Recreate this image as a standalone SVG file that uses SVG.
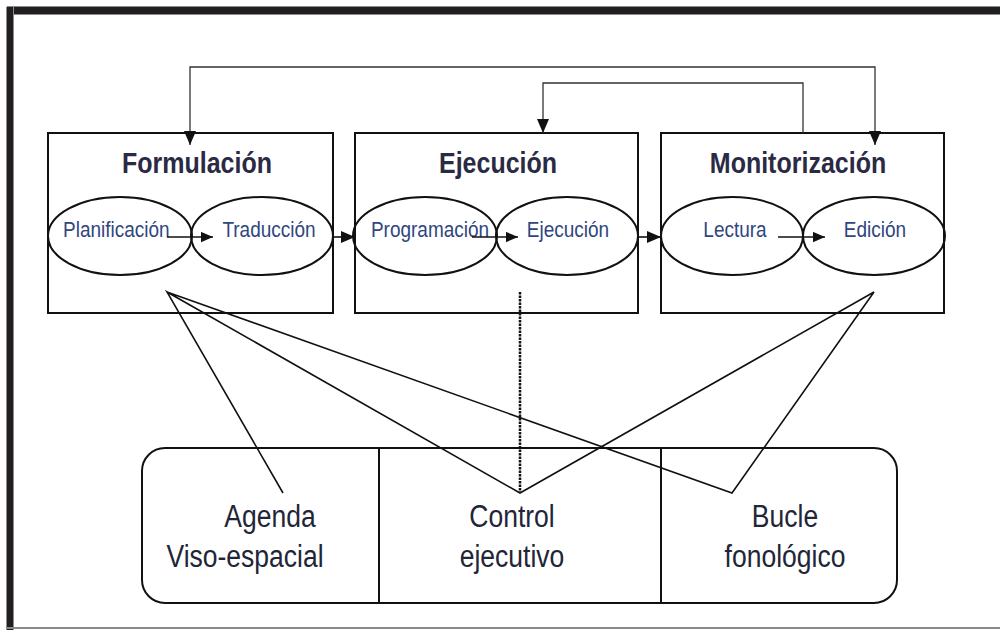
<svg xmlns="http://www.w3.org/2000/svg" width="1000" height="630" viewBox="0 0 1000 630">
  <defs>
    <marker id="ah" viewBox="0 0 14 12" refX="14" refY="6" markerWidth="14" markerHeight="12" markerUnits="userSpaceOnUse" orient="auto-start-reverse">
      <path d="M0,0 L14,6 L0,12 z" fill="#111"/>
    </marker>
    <marker id="ahs" viewBox="0 0 14 12" refX="14" refY="6" markerWidth="12" markerHeight="11" markerUnits="userSpaceOnUse" orient="auto-start-reverse">
      <path d="M0,0 L14,6 L0,12 z" fill="#111"/>
    </marker>
  </defs>
  <style>
    .box { fill: #fff; stroke: #111; stroke-width: 2; }
    .ell { fill: none; stroke: #111; stroke-width: 2; }
    .title { font-family: "Liberation Sans", Arial, sans-serif; font-weight: bold; font-size: 25px; fill: #2a2a44; text-anchor: middle; }
    .lab { font-family: "Liberation Sans", Arial, sans-serif; font-size: 19px; fill: #2f4680; }
    .mem { font-family: "Liberation Sans", Arial, sans-serif; font-size: 26.5px; fill: #222538; text-anchor: middle; }
    .conn { fill: none; stroke: #111; stroke-width: 1.6; }
    .top { fill: none; stroke: #333; stroke-width: 1.3; }
  </style>
  <rect width="1000" height="630" fill="#fff"/>
  <!-- frame -->
  <g id="frame">
    <rect x="7" y="6" width="993" height="9" fill="#8c8c8c"/>
    <rect x="7" y="7" width="993" height="7" fill="#231f20"/>
    <rect x="6" y="7" width="8" height="623" fill="#8c8c8c"/>
    <rect x="7" y="7" width="6" height="623" fill="#231f20"/>
    <rect x="7" y="627" width="993" height="2" fill="#8a8a8a"/>
  </g>

  <g id="formulacion">
    <rect class="box" x="48" y="133" width="285" height="180"/>
    <text class="title" transform="translate(197,173) scale(1,1.15)">Formulación</text>
    <ellipse class="ell" cx="120" cy="236" rx="72" ry="39"/>
    <ellipse class="ell" cx="262" cy="236" rx="71" ry="39"/>
    <text class="lab" transform="translate(63,237) scale(1,1.2)">Planificación</text>
    <text class="lab" text-anchor="middle" transform="translate(269,237) scale(1,1.2)">Traducción</text>
  </g>

  <g id="ejecucion">
    <rect class="box" x="355" y="133" width="283" height="180"/>
    <text class="title" transform="translate(498,173) scale(1,1.15)">Ejecución</text>
    <ellipse class="ell" cx="425" cy="236" rx="72" ry="39"/>
    <ellipse class="ell" cx="567" cy="236" rx="71" ry="39"/>
    <text class="lab" text-anchor="middle" transform="translate(430,237) scale(1,1.2)">Programación</text>
    <text class="lab" text-anchor="middle" transform="translate(568,237) scale(1,1.2)">Ejecución</text>
  </g>

  <g id="monitorizacion">
    <rect class="box" x="661" y="133" width="283" height="180"/>
    <text class="title" transform="translate(798,173) scale(1,1.15)">Monitorización</text>
    <ellipse class="ell" cx="732" cy="236" rx="71" ry="39"/>
    <ellipse class="ell" cx="874" cy="236" rx="71" ry="39"/>
    <text class="lab" text-anchor="middle" transform="translate(735,237) scale(1,1.2)">Lectura</text>
    <text class="lab" text-anchor="middle" transform="translate(875,237) scale(1,1.2)">Edición</text>
  </g>

  <g id="memoria">
    <rect class="box" x="142" y="448" width="755" height="155" rx="23" ry="23"/>
    <line x1="379" y1="448" x2="379" y2="603" stroke="#111" stroke-width="2"/>
    <line x1="661" y1="448" x2="661" y2="603" stroke="#111" stroke-width="2"/>
    <text class="mem" transform="translate(270,527) scale(1,1.2)">Agenda</text>
    <text class="mem" transform="translate(245,567) scale(1,1.2)">Viso-espacial</text>
    <text class="mem" transform="translate(512,527) scale(1,1.2)">Control</text>
    <text class="mem" transform="translate(512,567) scale(1,1.2)">ejecutivo</text>
    <text class="mem" transform="translate(785,527) scale(1,1.2)">Bucle</text>
    <text class="mem" transform="translate(785,567) scale(1,1.2)">fonológico</text>
  </g>

  <g id="connectors">
    <path class="top" d="M190,145 L190,67 L875,67 L875,145" marker-start="url(#ah)" marker-end="url(#ah)"/>
    <path class="top" d="M803,133 L803,83 L543,83 L543,133" marker-end="url(#ah)"/>
    <path class="conn" d="M333,237 L355,237" marker-end="url(#ah)"/>
    <path class="conn" d="M638,237 L661,237" marker-end="url(#ah)"/>
    <path class="conn" d="M167,237 L213,237" marker-end="url(#ahs)"/>
    <path class="conn" d="M472,237 L518,237" marker-end="url(#ahs)"/>
    <path class="conn" d="M778,237 L825,237" marker-end="url(#ahs)"/>
    <path class="conn" d="M283,493 L167,292 L520,493 L874,292 L732,493 L167,292"/>
    <line x1="520" y1="292" x2="520" y2="493" stroke="#111" stroke-width="2.5" stroke-dasharray="2.5 1"/>
  </g>
</svg>
